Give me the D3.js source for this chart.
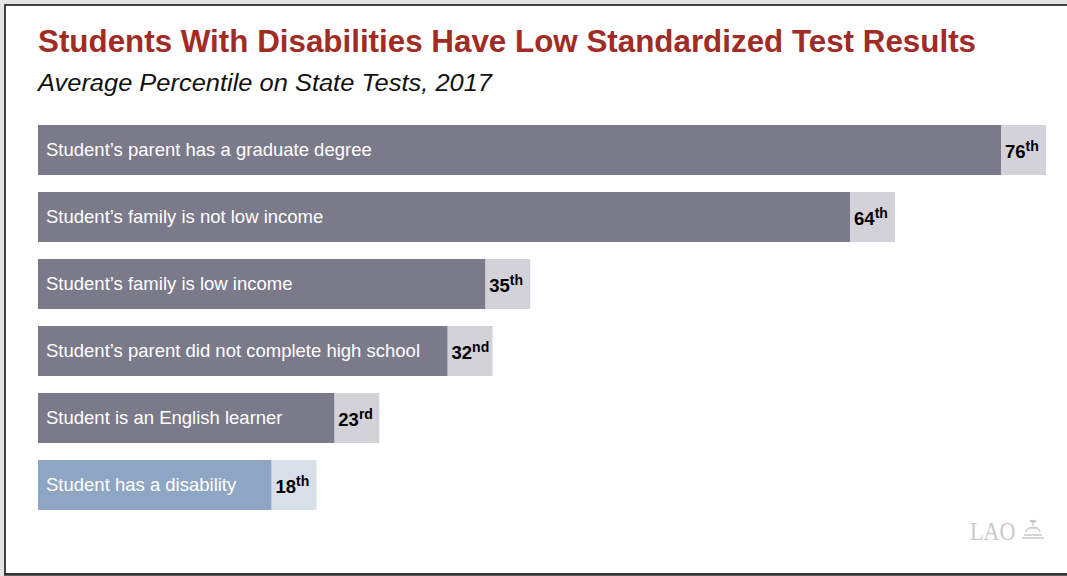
<!DOCTYPE html>
<html>
<head>
<meta charset="utf-8">
<script src="https://cdn.jsdelivr.net/npm/d3@7"></script>
<style>
  html, body { margin: 0; padding: 0; background: #e4e4e4; }
  svg { display: block; font-family: "Liberation Sans", Arial, Helvetica, sans-serif; }
</style>
</head>
<body>
<svg id="chart" width="1067" height="576"></svg>
<script>
// Average percentile on state tests, 2017, by student group
const groups = [
  "Student\u2019s parent has a graduate degree",
  "Student\u2019s family is not low income",
  "Student\u2019s family is low income",
  "Student\u2019s parent did not complete high school",
  "Student is an English learner",
  "Student has a disability"
];
const percentiles = [76, 64, 35, 32, 23, 18];
const suffixes = ["th", "th", "th", "nd", "rd", "th"];
const highlight = [false, false, false, false, false, true];

const title = "Students With Disabilities Have Low Standardized Test Results";
const subtitle = "Average Percentile on State Tests, 2017";

const W = 1067, H = 576;
const svg = d3.select("#chart");

// Page frame
svg.append("rect").attr("x", 0).attr("y", 0).attr("width", W).attr("height", H).attr("fill", "#e4e4e4");
svg.append("rect").attr("x", 5).attr("y", 5).attr("width", W + 10).attr("height", 569)
  .attr("fill", "#ffffff").attr("stroke", "#1a1a1a").attr("stroke-width", 1.6);
svg.append("line").attr("x1", 4).attr("x2", W).attr("y1", 574.5).attr("y2", 574.5)
  .attr("stroke", "#333").attr("stroke-width", 2.5);

// Titles
svg.append("text").attr("x", 38).attr("y", 52)
  .attr("fill", "#a12b25").attr("font-weight", "bold").attr("font-size", 32)
  .attr("textLength", 938).attr("lengthAdjust", "spacingAndGlyphs")
  .text(title);
svg.append("text").attr("x", 38).attr("y", 91)
  .attr("fill", "#111").attr("font-style", "italic").attr("font-size", 24.5)
  .attr("textLength", 454).attr("lengthAdjust", "spacingAndGlyphs")
  .text(subtitle);

// Scales
const left = 38;
const x = d3.scaleLinear().domain([0, 76]).range([left + 7, 1001]);
const y = d3.scaleBand().domain(groups).range([125, 510]).paddingInner(0.254).paddingOuter(0);
const boxW = 45;

const rows = groups.map((g, i) => ({ g, v: percentiles[i], s: suffixes[i], hi: highlight[i] }));

const row = svg.append("g").selectAll("g").data(rows).join("g")
  .attr("transform", d => `translate(0,${y(d.g)})`);

// Value box behind the end of each bar
row.append("rect")
  .attr("x", d => x(d.v))
  .attr("y", 0)
  .attr("width", boxW)
  .attr("height", y.bandwidth())
  .attr("fill", d => d.hi ? "#d7dfe9" : "#d3d2d9");

// Main bar
row.append("rect")
  .attr("x", left)
  .attr("y", 0)
  .attr("width", d => x(d.v) - left)
  .attr("height", y.bandwidth())
  .attr("fill", d => d.hi ? "#8ea6c3" : "#7b7a8a");

// Group label inside the bar
row.append("text")
  .attr("x", left + 8)
  .attr("y", y.bandwidth() / 2 + 6)
  .attr("fill", "#ffffff")
  .attr("font-size", 18.5)
  .text(d => d.g);

// Percentile label with ordinal suffix
const val = row.append("text")
  .attr("x", d => x(d.v) + 4)
  .attr("y", y.bandwidth() / 2 + 8)
  .attr("fill", "#000")
  .attr("font-weight", "bold")
  .attr("font-size", 18.5);
val.append("tspan").text(d => d.v);
val.append("tspan").attr("font-size", 14).attr("dy", -7).text(d => d.s);

// LAO mark
const logo = svg.append("g").attr("transform", "translate(970,540)");
logo.append("text").attr("x", 0).attr("y", 0)
  .attr("font-family", "Liberation Serif, Times New Roman, serif")
  .attr("font-size", 26).attr("fill", "#c9c9c9")
  .attr("transform", "scale(0.85,1)")
  .text("LAO");
const dome = logo.append("g").attr("fill", "none").attr("stroke", "#c9c9c9").attr("stroke-width", 1.3);
dome.append("path").attr("d", "M52,-2 L74,-2 M54,-5 L72,-5 M56,-8 C56,-14 70,-14 70,-8 M58,-12 L68,-12 M63,-14 L63,-18 M61,-18 L65,-18 M60,-18 C60,-20 66,-20 66,-18");
</script>
</body>
</html>
